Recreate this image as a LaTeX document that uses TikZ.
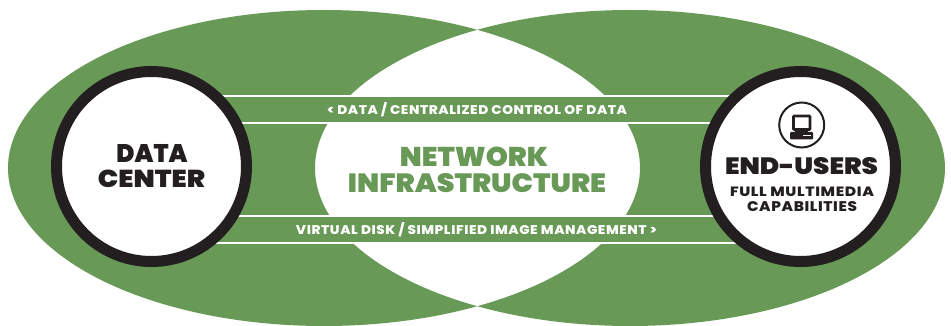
\documentclass[tikz,border=0pt]{standalone}
\usepackage{fontspec}
\setmainfont{Poppins}[BoldFont={Poppins ExtraBold}]
\newfontfamily\blk{Poppins Black}
\definecolor{leaf}{HTML}{699956}
\definecolor{ink}{HTML}{231F20}
\newcommand{\fitw}[3]{\resizebox{#1pt}{#2pt}{\blk #3}}
\newcommand{\fits}[3]{\resizebox{#1pt}{#2pt}{\bfseries\addfontfeature{LetterSpace=4}#3}}
\tikzset{
  lens/.style={fill=leaf,even odd rule},
  band/.style={fill=leaf},
  rule/.style={draw=white,line width=2pt},
  hub/.style={circle,draw=ink,fill=white,line width=11pt,minimum size=190pt,inner sep=0pt},
  lab/.style={anchor=base,inner sep=0pt,outer sep=0pt},
}
\begin{document}
\begin{tikzpicture}[x=1pt,y=-1pt]
\useasboundingbox (0,0) rectangle (951,326);
\fill[lens] (324,168) ellipse [x radius=316pt,y radius=158pt] (630,168) ellipse [x radius=315pt,y radius=158pt];
\fill[band] (200,96) rectangle (750,123);
\fill[band] (200,216) rectangle (750,243);
\coordinate (a1) at (200,96);  \coordinate (b1) at (750,96);
\coordinate (a2) at (200,123); \coordinate (b2) at (750,123);
\coordinate (a3) at (200,216); \coordinate (b3) at (750,216);
\coordinate (a4) at (200,243); \coordinate (b4) at (750,243);
\draw[rule] (a1) -- (b1);
\draw[rule] (a2) -- (b2);
\draw[rule] (a3) -- (b3);
\draw[rule] (a4) -- (b4);
\node[hub] (dc) at (151.5,166.5) {};
\node[hub] (eu) at (800.5,166.5) {};
\node[lab,text=white] (t1) at (477,114.7) {\fits{300}{12}{< DATA / CENTRALIZED CONTROL OF DATA}};
\node[lab,text=white] (t2) at (476.5,234.7) {\fits{361}{12}{VIRTUAL DISK / SIMPLIFIED IMAGE MANAGEMENT >}};
\node[lab,text=leaf] (n1) at (474,167) {\fitw{148}{19.5}{NETWORK}};
\node[lab,text=leaf] (n2) at (477,192) {\fitw{258}{19}{INFRASTRUCTURE}};
\node[lab,text=ink] (d1) at (152,162) {\fitw{71}{18}{DATA}};
\node[lab,text=ink] (d2) at (151.5,187) {\fitw{107}{17.5}{CENTER}};
\node[lab,text=ink] (e1) at (801.5,175) {\fitw{153}{17}{END-USERS}};
\node[lab,text=ink] (e2) at (802,196) {\fits{144}{9.5}{FULL MULTIMEDIA}};
\node[lab,text=ink] (e3) at (802,211) {\fits{110}{10}{CAPABILITIES}};
% computer icon
\node[circle,draw=ink,line width=2pt,minimum size=45pt,inner sep=0pt] (icon) at (801.7,125) {};
\draw[ink,line width=2.6pt,rounded corners=0.6pt] (793.5,116) rectangle (810,129.5);
\fill[ink,rounded corners=1pt] (790,132) rectangle (813,139.5);
\fill[ink] (795,130) rectangle (808,133);
\fill[white] (803,134.6) rectangle (811,135.6);
\end{tikzpicture}
\end{document}
